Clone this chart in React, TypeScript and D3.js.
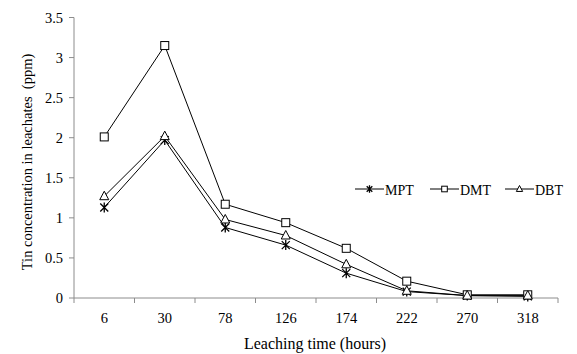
import React from "react";
import * as d3 from "d3";

const hours = ["6", "30", "78", "126", "174", "222", "270", "318"];
const mpt = [1.13, 1.97, 0.88, 0.66, 0.31, 0.08, 0.03, 0.02];
const dmt = [2.01, 3.15, 1.17, 0.94, 0.62, 0.21, 0.04, 0.04];
const dbt = [1.27, 2.02, 0.98, 0.78, 0.42, 0.09, 0.03, 0.03];
const yTicks = [0, 0.5, 1, 1.5, 2, 2.5, 3, 3.5];

const seriesList = [
  { name: "MPT", values: mpt, marker: "star" },
  { name: "DMT", values: dmt, marker: "square" },
  { name: "DBT", values: dbt, marker: "triangle" },
];

const font = "Liberation Serif";
const axisColor = "#8c8c8c";

const width = 577;
const height = 354;
const margin = { left: 74, right: 19, top: 17.5, bottom: 56 };

const x = d3.scaleBand().domain(hours).range([margin.left, width - margin.right]);
const y = d3.scaleLinear().domain([0, 3.5]).range([height - margin.bottom, margin.top]);
const cx = (h: string) => (x(h) as number) + x.bandwidth() / 2;

const line = d3.line<number>()
  .x((_, i) => cx(hours[i]))
  .y((d) => y(d));

const Marker = ({ type, px, py, s = 1 }: { type: string; px: number; py: number; s?: number }) => {
  if (type === "square") {
    return <rect x={px - 4 * s} y={py - 4 * s} width={8 * s} height={8 * s} fill="#fff" stroke="#000" strokeWidth={1} />;
  }
  if (type === "triangle") {
    return (
      <path d={`M${px},${py - 5 * s} L${px + 4.5 * s},${py + 3.5 * s} L${px - 4.5 * s},${py + 3.5 * s} Z`}
        fill="#fff" stroke="#000" strokeWidth={1} />
    );
  }
  const r = 4 * s;
  return (
    <path d={`M${px - r},${py - r} L${px + r},${py + r} M${px - r},${py + r} L${px + r},${py - r} M${px},${py - r - 1} L${px},${py + r + 1}`}
      fill="none" stroke="#000" strokeWidth={1.3} />
  );
};

const legendX = [355, 430, 505];

const App = () => {
  const bounds = hours.map((h) => x(h) as number).concat([width - margin.right]);
  return (
    <svg width={width} height={height} style={{ position: "absolute", left: 0, top: 0, background: "#fff" }}>
      {/* y axis */}
      <line x1={margin.left} x2={margin.left} y1={y(3.5)} y2={y(0)} stroke={axisColor} />
      {yTicks.map((t) => (
        <g key={t}>
          <line x1={margin.left - 5} x2={margin.left} y1={y(t)} y2={y(t)} stroke={axisColor} />
          <text x={margin.left - 11} y={y(t) + 5} textAnchor="end" style={{ fontFamily: font, fontSize: "14.5px" }}>{t}</text>
        </g>
      ))}

      {/* x axis */}
      <line x1={margin.left} x2={width - margin.right} y1={y(0)} y2={y(0)} stroke={axisColor} />
      {bounds.map((b, i) => (
        <line key={i} x1={b} x2={b} y1={y(0)} y2={y(0) + 5} stroke={axisColor} />
      ))}
      {hours.map((h) => (
        <text key={h} x={cx(h)} y={y(0) + 25} textAnchor="middle" style={{ fontFamily: font, fontSize: "14.5px" }}>{h}</text>
      ))}

      {/* series */}
      {seriesList.map((s) => (
        <path key={s.name} d={line(s.values) as string} fill="none" stroke="#000" strokeWidth={1} />
      ))}
      {seriesList.map((s) => (
        <g key={s.name + "m"}>
          {s.values.map((v, i) => (
            <Marker key={i} type={s.marker} px={cx(hours[i])} py={y(v)} />
          ))}
        </g>
      ))}

      {/* legend */}
      {seriesList.map((s, i) => (
        <g key={s.name + "l"} transform={`translate(${legendX[i]},189)`}>
          <line x1={0} x2={29} stroke="#000" />
          <Marker type={s.marker} px={14.5} py={0} s={0.7} />
          <text x={30} y={5.5} style={{ fontFamily: font, fontSize: "14px" }}>{s.name}</text>
        </g>
      ))}

      {/* axis titles */}
      <text x={315} y={349} textAnchor="middle" style={{ fontFamily: font, fontSize: "16px" }}>Leaching time (hours)</text>
      <text transform="translate(32,162) rotate(-90)" textAnchor="middle" style={{ fontFamily: font, fontSize: "14.5px", whiteSpace: "pre" }}>
        Tin concentration in leachates  (ppm)
      </text>
    </svg>
  );
};

export default App;
